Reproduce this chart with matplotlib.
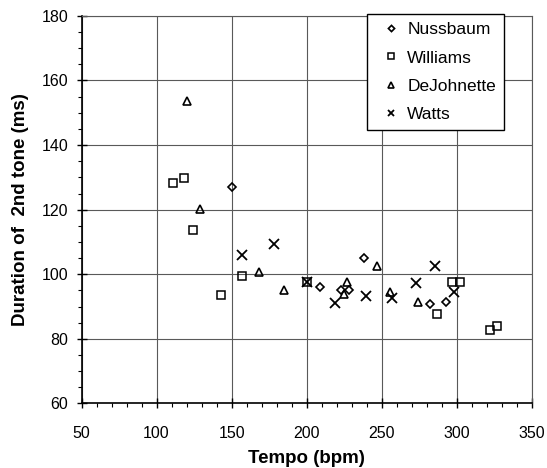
import matplotlib
matplotlib.use("Agg")
import matplotlib.pyplot as plt
from matplotlib.ticker import MultipleLocator

plt.rcParams['font.family'] = ['Liberation Sans', 'DejaVu Sans']

# values
nuss_x = [150, 209, 223, 228, 238, 282, 293]
nuss_y = [127, 96, 95, 95, 105, 90.8, 91.3]

will_x = [111, 118, 124, 143, 157, 200, 287, 297, 302, 322, 327]
will_y = [128.2, 129.8, 113.7, 93.5, 99.4, 97.5, 87.6, 97.6, 97.6, 82.7, 83.9]

dej_x = [120, 129, 168, 185, 225, 227, 247, 255.5, 274]
dej_y = [153.6, 120.1, 100.7, 95.1, 94.0, 97.5, 102.6, 94.6, 91.3]

watts_x = [157, 178, 200, 219, 239.5, 257, 273, 285.5, 298]
watts_y = [106.1, 109.3, 97.5, 91.2, 93.2, 92.7, 97.2, 102.6, 94.4]

fig = plt.figure(figsize=(5.47, 4.68), dpi=100)
ax = fig.add_axes([0.149, 0.138, 0.823, 0.828])

ax.plot(nuss_x, nuss_y, 'D', ms=4.5, mfc='none', mec='black', mew=1.2, label='Nussbaum', clip_on=False)
ax.plot(will_x, will_y, 's', ms=6, mfc='none', mec='black', mew=1.1, label='Williams', clip_on=False)
ax.plot(dej_x, dej_y, '^', ms=6, mfc='none', mec='black', mew=1.2, label='DeJohnette', clip_on=False)
ax.plot(watts_x, watts_y, 'x', ms=7, mec='black', mew=1.3, label='Watts', clip_on=False)

ax.set_xlim(50, 350)
ax.set_ylim(60, 180)
ax.xaxis.set_major_locator(MultipleLocator(50))
ax.xaxis.set_minor_locator(MultipleLocator(10))
ax.yaxis.set_major_locator(MultipleLocator(20))
ax.yaxis.set_minor_locator(MultipleLocator(5))
ax.tick_params(which='major', direction='inout', length=7, width=1, labelsize=11.5, colors='black')
ax.tick_params(which='minor', direction='out', length=3, width=0.8)
ax.tick_params(axis='x', pad=13)
ax.tick_params(axis='y', pad=6)

ax.grid(True, which='major', color='0.35', linewidth=0.8)
ax.set_axisbelow(True)
for s in ['top', 'right']:
    ax.spines[s].set_color('0.35')
    ax.spines[s].set_linewidth(0.8)
for s in ['left', 'bottom']:
    ax.spines[s].set_linewidth(1.2)

ax.set_xlabel('Tempo (bpm)', fontsize=13.5, fontweight='bold', labelpad=6)
ax.set_ylabel('Duration of  2nd tone (ms)', fontsize=13.5, fontweight='bold', labelpad=9)

leg = ax.legend(loc='upper right', bbox_to_anchor=(0.938, 1.004), borderaxespad=0,
                fontsize=12.5, frameon=True, fancybox=False, edgecolor='black', framealpha=1,
                handlelength=1.8, handletextpad=0.05, labelspacing=0.75,
                borderpad=0.45, markerscale=0.7)
leg.get_frame().set_linewidth(1.0)

fig.savefig('out.png', dpi=100)
